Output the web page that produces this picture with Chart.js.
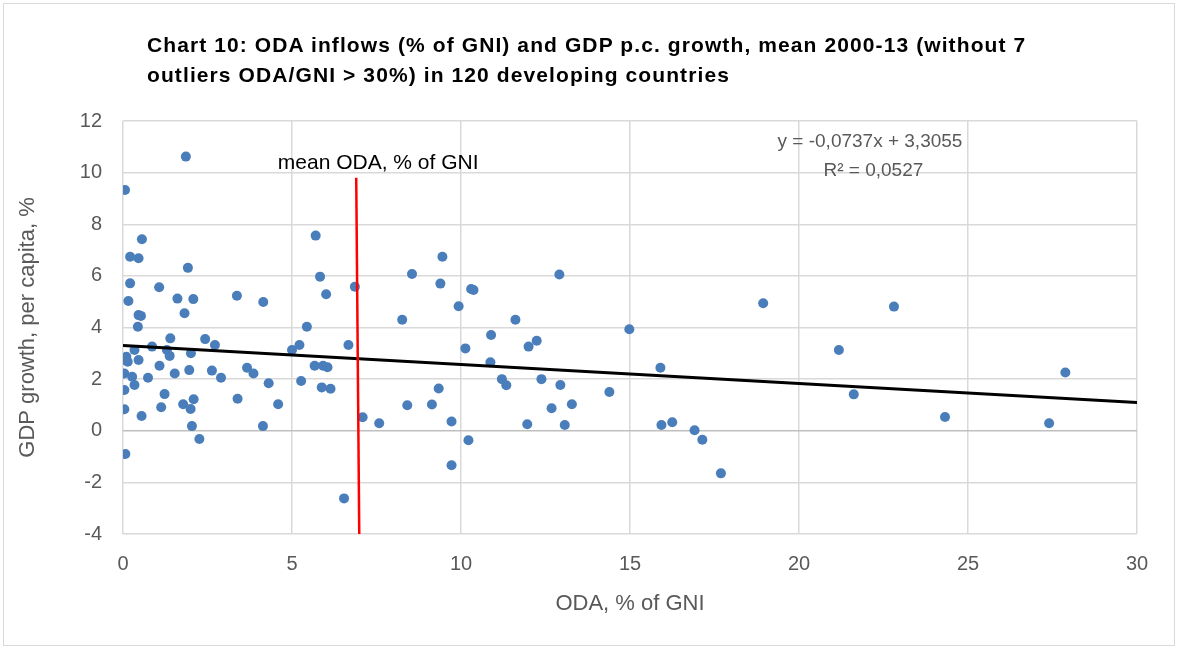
<!DOCTYPE html>
<html>
<head>
<meta charset="utf-8">
<script src="https://cdn.jsdelivr.net/npm/chart.js@4"></script>
<style>
  body { margin: 0; background: #fff; }
  #frame { position: absolute; left: 3px; top: 3px; width: 1172px; height: 643px; border: 1px solid #d9d9d9; box-sizing: border-box; }
  #title { position: absolute; left: 147px; top: 30px; font: bold 21px "Liberation Sans", Arial, sans-serif; letter-spacing: 1.1px; line-height: 30px; color: #000; }
  #wrap { position: absolute; left: 0; top: 0; width: 1179px; height: 650px; }
</style>
</head>
<body>
<div id="frame"></div>
<div id="wrap"><canvas id="chart"></canvas></div>
<div id="title">Chart 10: ODA inflows (% of GNI) and GDP p.c. growth, mean 2000-13 (without 7<br>outliers ODA/GNI &gt; 30%) in 120 developing countries</div>
<script>
// ODA inflows, % of GNI (x) and GDP p.c. growth, % (y)
const odaGni = [
  1.86, 0.06, 0.56, 0.21, 0.46, 1.92, 0.21, 1.07, 0.16, 1.61,
  2.08, 3.37, 4.15, 0.46, 0.53, 1.82, 0.44, 5.44, 1.40, 2.43,
  0.86, 2.72, 5.22, 6.67, 5.00, 0.34, 1.30, 0.10, 0.14, 0.07,
  0.46, 1.38, 2.01, 1.08, 5.67, 5.92, 6.05, 3.67, 3.86, 1.96,
  0.04, 0.27, 2.63, 1.53, 0.74, 2.90, 0.34, 5.27, 4.31, 5.88,
  6.14, 0.04, 1.23, 2.09, 3.39, 1.78, 4.59, 1.13, 2.00, 0.04,
  0.55, 2.04, 4.14, 2.26, 0.07, 6.54, 5.70, 5.83, 6.01, 6.86,
  9.45, 8.55, 9.39, 10.30, 10.37, 9.93, 8.26, 11.61, 12.91, 7.09,
  7.58, 10.89, 12.00, 12.24, 10.13, 10.87, 11.21, 11.34, 12.38, 12.94,
  9.34, 8.41, 9.14, 13.28, 12.68, 9.72, 11.96, 13.07, 10.22, 9.72,
  14.98, 18.94, 21.18, 15.90, 21.62, 14.39, 15.93, 16.25, 16.91, 17.14,
  17.69, 22.81, 24.32, 27.88, 27.40
];
const gdpGrowth = [
  10.62, 9.33, 7.42, 6.74, 6.68, 6.31, 5.71, 5.56, 5.03, 5.12,
  5.10, 5.23, 4.99, 4.48, 4.45, 4.55, 4.03, 4.03, 3.58, 3.55,
  3.26, 3.32, 3.32, 3.32, 3.13, 3.13, 3.13, 2.87, 2.67, 2.74,
  2.74, 2.90, 3.00, 2.52, 2.52, 2.52, 2.46, 2.44, 2.22, 2.35,
  2.22, 2.09, 2.33, 2.22, 2.05, 2.05, 1.77, 1.93, 1.84, 1.68,
  1.63, 1.58, 1.42, 1.22, 1.24, 1.03, 1.03, 0.91, 0.84, 0.83,
  0.57, 0.18, 0.18, -0.32, -0.90, -2.62, 7.56, 5.97, 5.29, 5.58,
  6.74, 6.07, 5.70, 5.49, 5.45, 4.82, 4.30, 4.30, 6.05, 0.52,
  0.29, 3.71, 3.26, 3.49, 3.19, 2.65, 2.00, 1.76, 2.00, 1.77,
  1.64, 0.99, 1.02, 1.03, 0.87, 0.36, 0.25, 0.22, -0.37, -1.34,
  3.93, 4.94, 3.13, 2.44, 1.41, 1.50, 0.22, 0.33, 0.02, -0.35,
  -1.65, 4.81, 0.53, 2.26, 0.29
];

// linear trend (from the chart's equation)
const trendSlope = -0.0737;
const trendIntercept = 3.3055;
const trendR2 = 0.0527;
const trendX = [0, 30];

// mean ODA marker line
const meanX = [6.99, 6.90];
const meanY = [-4, 9.8];

const xTicks = [0, 5, 10, 15, 20, 25, 30];
const yTicks = [-4, -2, 0, 2, 4, 6, 8, 10, 12];

const points = odaGni.map((x, i) => ({ x: x, y: gdpGrowth[i] }));
const trend = trendX.map(x => ({ x: x, y: trendSlope * x + trendIntercept }));
const meanLine = meanX.map((x, i) => ({ x: x, y: meanY[i] }));

const fmt = v => v.toFixed(4).replace('.', ',');

const labelsPlugin = {
  id: 'labels',
  afterDatasetsDraw(chart) {
    const ctx = chart.ctx;
    const xs = chart.scales.x, ys = chart.scales.y;
    ctx.save();
    ctx.textAlign = 'center';
    ctx.textBaseline = 'middle';
    ctx.font = '21px "Liberation Sans", Arial, sans-serif';
    ctx.fillStyle = '#000';
    ctx.fillText('mean ODA, % of GNI', xs.getPixelForValue(7.55), ys.getPixelForValue(10.38));
    ctx.font = '19px "Liberation Sans", Arial, sans-serif';
    ctx.fillStyle = '#595959';
    ctx.fillText('y = ' + fmt(trendSlope) + 'x + ' + fmt(trendIntercept), xs.getPixelForValue(22.1), ys.getPixelForValue(11.2));
    ctx.fillText('R² = ' + fmt(trendR2), xs.getPixelForValue(22.2), ys.getPixelForValue(10.07));
    ctx.restore();
  }
};

const tickFont = { family: '"Liberation Sans", Arial, sans-serif', size: 20 };
const titleFont = { family: '"Liberation Sans", Arial, sans-serif', size: 22 };

new Chart(document.getElementById('chart'), {
  type: 'scatter',
  data: {
    datasets: [
      {
        label: 'countries',
        data: points,
        backgroundColor: '#4a7ebb',
        borderWidth: 0,
        pointRadius: 5,
        order: 3
      },
      {
        type: 'line',
        label: 'trend',
        data: trend,
        borderColor: '#000',
        borderWidth: 3,
        pointRadius: 0,
        fill: false,
        order: 2
      },
      {
        type: 'line',
        label: 'mean ODA',
        data: meanLine,
        borderColor: '#ff0000',
        borderWidth: 2.5,
        pointRadius: 0,
        fill: false,
        order: 1
      }
    ]
  },
  options: {
    responsive: true,
    maintainAspectRatio: false,
    animation: false,
    layout: { padding: { top: 121, right: 42, bottom: 0, left: 0 } },
    plugins: {
      legend: { display: false },
      tooltip: { enabled: false }
    },
    scales: {
      x: {
        type: 'linear',
        min: 0,
        max: 30,
        afterBuildTicks: s => { s.ticks = xTicks.map(v => ({ value: v })); },
        afterFit: s => { s.height = 116; },
        grid: { color: '#d9d9d9', lineWidth: 1.5, drawTicks: false },
        border: { display: false },
        ticks: { font: tickFont, color: '#595959', padding: 18 },
        title: { display: true, text: 'ODA, % of GNI', font: titleFont, color: '#595959', padding: { top: 33, bottom: 33 } }
      },
      y: {
        min: -4,
        max: 12,
        afterBuildTicks: s => { s.ticks = yTicks.map(v => ({ value: v })); },
        afterFit: s => { s.width = 123; },
        grid: {
          color: ctx => ctx.tick && ctx.tick.value === 0 ? '#bfbfbf' : '#d9d9d9',
          lineWidth: 1.5,
          drawTicks: false
        },
        border: { display: false },
        ticks: { font: tickFont, color: '#595959', padding: 21 },
        title: { display: true, text: 'GDP growth, per capita, %', font: titleFont, color: '#595959', padding: { top: 15, bottom: 15 } }
      }
    }
  },
  plugins: [labelsPlugin]
});
</script>
</body>
</html>
